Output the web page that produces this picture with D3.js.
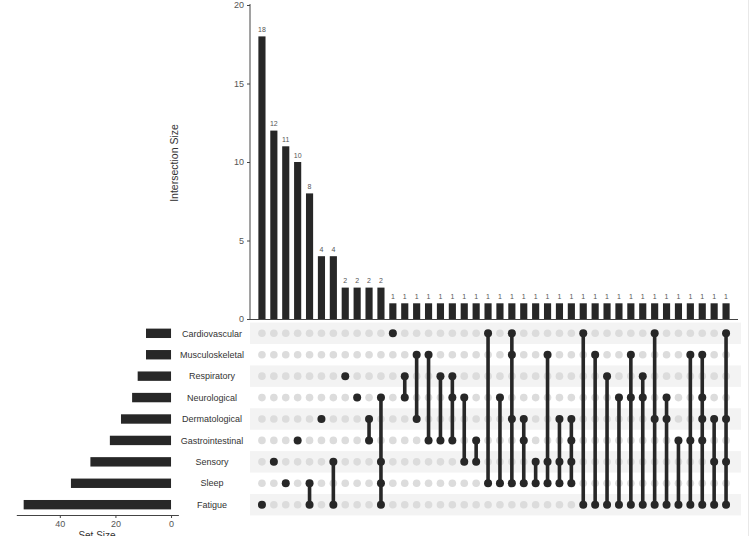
<!DOCTYPE html>
<html>
<head>
<meta charset="utf-8">
<script src="https://cdn.jsdelivr.net/npm/d3@7"></script>
<style>
  body { margin: 0; background: #fff; }
  svg { display: block; font-family: "Liberation Sans", Arial, sans-serif; }
</style>
</head>
<body>
<div id="chart"></div>
<script>
// sets, top to bottom in the matrix
const sets = ["Cardiovascular", "Musculoskeletal", "Respiratory", "Neurological",
  "Dermatological", "Gastrointestinal", "Sensory", "Sleep", "Fatigue"];
const setSizes = [9, 9, 12, 14, 18, 22, 29, 36, 53];

// the 40 intersections shown, left to right
const intersectionSizes = [18, 12, 11, 10, 8, 4, 4, 2, 2, 2, 2,
  1, 1, 1, 1, 1, 1, 1, 1, 1, 1, 1, 1, 1, 1, 1, 1, 1, 1, 1, 1, 1, 1, 1, 1, 1, 1, 1, 1, 1];
const intersectionMembers = [
  ["Fatigue"],
  ["Sensory"],
  ["Sleep"],
  ["Gastrointestinal"],
  ["Sleep", "Fatigue"],
  ["Dermatological"],
  ["Sensory", "Fatigue"],
  ["Respiratory"],
  ["Neurological"],
  ["Dermatological", "Gastrointestinal"],
  ["Neurological", "Sensory", "Sleep", "Fatigue"],
  ["Cardiovascular"],
  ["Respiratory", "Neurological"],
  ["Musculoskeletal", "Dermatological"],
  ["Musculoskeletal", "Gastrointestinal"],
  ["Respiratory", "Gastrointestinal"],
  ["Respiratory", "Neurological", "Gastrointestinal"],
  ["Neurological", "Sensory"],
  ["Gastrointestinal", "Sensory"],
  ["Cardiovascular", "Sleep"],
  ["Neurological", "Sleep"],
  ["Cardiovascular", "Musculoskeletal", "Dermatological", "Sleep"],
  ["Dermatological", "Gastrointestinal", "Sleep"],
  ["Sensory", "Sleep"],
  ["Musculoskeletal", "Sensory", "Sleep"],
  ["Dermatological", "Sensory", "Sleep"],
  ["Dermatological", "Gastrointestinal", "Sensory", "Sleep"],
  ["Cardiovascular", "Fatigue"],
  ["Musculoskeletal", "Fatigue"],
  ["Respiratory", "Fatigue"],
  ["Neurological", "Fatigue"],
  ["Musculoskeletal", "Neurological", "Fatigue"],
  ["Respiratory", "Neurological", "Fatigue"],
  ["Cardiovascular", "Dermatological", "Fatigue"],
  ["Neurological", "Dermatological", "Fatigue"],
  ["Gastrointestinal", "Fatigue"],
  ["Musculoskeletal", "Gastrointestinal", "Fatigue"],
  ["Musculoskeletal", "Neurological", "Dermatological", "Gastrointestinal", "Fatigue"],
  ["Dermatological", "Sensory", "Fatigue"],
  ["Cardiovascular", "Dermatological", "Sensory", "Fatigue"]
];
const sizeTicks = [0, 5, 10, 15, 20];
const setTicks = [0, 20, 40];

const width = 750;
const height = 536;
const dark = "#272727";

const svg = d3.select("#chart").append("svg")
  .attr("width", width)
  .attr("height", height);

// scales
const xScale = d3.scaleBand()
  .domain(d3.range(intersectionSizes.length))
  .range([256, 732])
  .paddingInner(0.4)
  .paddingOuter(0.2);

const yScale = d3.scaleLinear()
  .domain([0, 20])
  .range([319, 5]);

const rowScale = d3.scaleBand()
  .domain(sets)
  .range([322.6, 515.4]);

const setScale = d3.scaleLinear()
  .domain([-2.65, 55.65])
  .range([178.4, 16.3]);

const cx = i => xScale(i) + xScale.bandwidth() / 2;
const cy = s => rowScale(s) + rowScale.bandwidth() / 2;

// intersection bars
svg.append("g").selectAll("rect")
  .data(intersectionSizes)
  .enter()
  .append("rect")
  .attr("x", (d, i) => xScale(i))
  .attr("y", d => yScale(d))
  .attr("width", xScale.bandwidth())
  .attr("height", d => yScale(0) - yScale(d))
  .attr("fill", dark);

svg.append("g").selectAll("text")
  .data(intersectionSizes)
  .enter()
  .append("text")
  .attr("x", (d, i) => cx(i))
  .attr("y", d => yScale(d) - 4.5)
  .attr("text-anchor", "middle")
  .attr("font-size", "7px")
  .attr("fill", "#555")
  .text(d => d);

// y axis
let yAxis = d3.axisLeft(yScale).tickValues(sizeTicks).tickSize(3).tickSizeOuter(0);
let yG = svg.append("g")
  .attr("transform", "translate(250,0)")
  .call(yAxis);
yG.select(".domain").attr("stroke", "#444").attr("d", "M0,4V319");
yG.selectAll(".tick line").attr("stroke", "#444");
yG.selectAll(".tick text").attr("font-size", "9px").attr("fill", "#555").attr("font-family", null);

// baseline of the bar chart
svg.append("line")
  .attr("x1", 250).attr("x2", 738)
  .attr("y1", yScale(0) + 0.5).attr("y2", yScale(0) + 0.5)
  .attr("stroke", "#444");

svg.append("text")
  .attr("transform", "translate(178," + 163 + ") rotate(-90)")
  .attr("text-anchor", "middle")
  .attr("font-size", "10.5px")
  .attr("fill", "#333")
  .text("Intersection Size");

// matrix row shading
svg.append("g").selectAll("rect")
  .data(sets.filter((s, i) => i % 2 === 0))
  .enter()
  .append("rect")
  .attr("x", 250)
  .attr("y", d => rowScale(d))
  .attr("width", 491)
  .attr("height", rowScale.bandwidth())
  .attr("fill", "#f3f3f3");

// empty dots
let grid = [];
intersectionSizes.forEach((d, i) => sets.forEach(s => grid.push([i, s])));
svg.append("g").selectAll("circle")
  .data(grid)
  .enter()
  .append("circle")
  .attr("cx", d => cx(d[0]))
  .attr("cy", d => cy(d[1]))
  .attr("r", 3.8)
  .attr("fill", "#dcdcdc");

// connecting lines
svg.append("g").selectAll("line")
  .data(intersectionMembers)
  .enter()
  .append("line")
  .attr("x1", (d, i) => cx(i))
  .attr("x2", (d, i) => cx(i))
  .attr("y1", d => d3.min(d, cy))
  .attr("y2", d => d3.max(d, cy))
  .attr("stroke", dark)
  .attr("stroke-width", 3.6);

// filled dots
let filled = [];
intersectionMembers.forEach((m, i) => m.forEach(s => filled.push([i, s])));
svg.append("g").selectAll("circle")
  .data(filled)
  .enter()
  .append("circle")
  .attr("cx", d => cx(d[0]))
  .attr("cy", d => cy(d[1]))
  .attr("r", 4)
  .attr("fill", dark);

// set names
svg.append("g").selectAll("text")
  .data(sets)
  .enter()
  .append("text")
  .attr("x", 212)
  .attr("y", d => cy(d) + 3.2)
  .attr("text-anchor", "middle")
  .attr("font-size", "9px")
  .attr("fill", "#333")
  .text(d => d);

// set size bars
svg.append("g").selectAll("rect")
  .data(setSizes)
  .enter()
  .append("rect")
  .attr("x", d => setScale(d))
  .attr("y", (d, i) => cy(sets[i]) - 4.7)
  .attr("width", d => setScale(0) - setScale(d))
  .attr("height", 9.4)
  .attr("fill", dark);

let setAxis = d3.axisBottom(setScale).tickValues(setTicks).tickSize(3).tickSizeOuter(0);
let sG = svg.append("g")
  .attr("transform", "translate(0,515)")
  .call(setAxis);
sG.select(".domain").attr("stroke", "#444");
sG.selectAll(".tick line").attr("stroke", "#444");
sG.selectAll(".tick text").attr("font-size", "9px").attr("fill", "#555").attr("font-family", null);

// sits at the bottom edge, partly cut as in the original figure
svg.append("text")
  .attr("x", 97)
  .attr("y", 539)
  .attr("text-anchor", "middle")
  .attr("font-size", "10px")
  .attr("fill", "#333")
  .text("Set Size");

// faint frame edge on the right
svg.append("line")
  .attr("x1", 748.5).attr("x2", 748.5)
  .attr("y1", 0).attr("y2", height)
  .attr("stroke", "#e8e8e8");
</script>
</body>
</html>
